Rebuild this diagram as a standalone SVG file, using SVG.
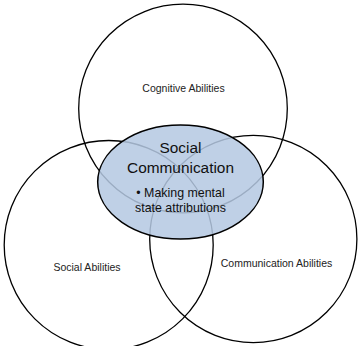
<svg xmlns="http://www.w3.org/2000/svg" width="361" height="346" viewBox="0 0 361 346">
<style>
.c{fill:none;stroke:#000;stroke-width:1.3}
.l{font-family:"Liberation Sans",Arial,sans-serif;font-size:10.5px;fill:#222;text-anchor:middle}
.m{font-family:"Liberation Sans",Arial,sans-serif;fill:#111;text-anchor:middle}
</style>
<rect width="361" height="346" fill="#fff"/>
<g id="cognitive">
<circle class="c" cx="183" cy="108.5" r="104.3"/>
<text class="l" x="183.5" y="92">Cognitive Abilities</text>
</g>
<g id="social">
<circle class="c" cx="108.7" cy="245" r="104.5"/>
<text class="l" x="87" y="271">Social Abilities</text>
</g>
<g id="communication">
<circle class="c" cx="253.3" cy="239" r="103.6"/>
<text class="l" x="276.5" y="266.5">Communication Abilities</text>
</g>
<g id="social-communication">
<ellipse cx="180.5" cy="182" rx="82.8" ry="57" fill="#b5c8e2" fill-opacity="0.86" stroke="#000" stroke-width="1.5"/>
<text class="m" x="180.5" y="153.3" font-size="15.4px">Social</text>
<text class="m" x="180.5" y="172.5" font-size="15.4px">Communication</text>
<text class="m" x="180.5" y="196.5" font-size="12.4px">• Making mental</text>
<text class="m" x="180.5" y="211.5" font-size="12.4px">state attributions</text>
</g>
</svg>
